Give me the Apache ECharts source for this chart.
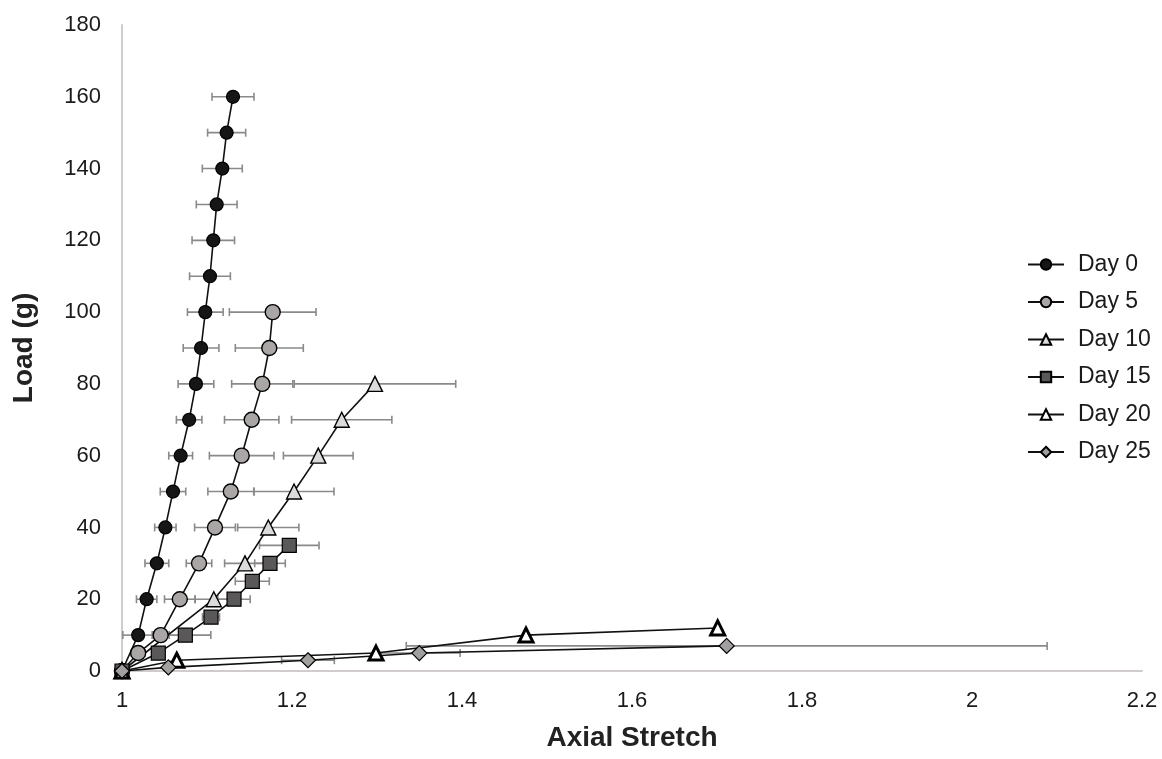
<!DOCTYPE html>
<html>
<head>
<meta charset="utf-8">
<script src="https://cdn.jsdelivr.net/npm/echarts@6/dist/echarts.min.js"></script>
<style>html,body{margin:0;padding:0;background:#fff;}#c{width:1162px;height:759px;}</style>
</head>
<body>
<div id="c"></div>
<script>
// ---- data ----
const xTicks = [1, 1.2, 1.4, 1.6, 1.8, 2, 2.2];
const yTicks = [0, 20, 40, 60, 80, 100, 120, 140, 160, 180];

const day0Stretch = [1.0, 1.019, 1.029, 1.041, 1.051, 1.060, 1.069, 1.079, 1.087, 1.093, 1.098, 1.1035, 1.1074, 1.1114, 1.118, 1.1231, 1.1306];
const day0Load    = [0, 10, 20, 30, 40, 50, 60, 70, 80, 90, 100, 110, 120, 130, 140, 150, 160];
const day0Err     = [0, 0.018, 0.012, 0.014, 0.0126, 0.015, 0.014, 0.015, 0.021, 0.021, 0.021, 0.024, 0.025, 0.024, 0.0235, 0.0224, 0.0247];

const day5Stretch = [1.0, 1.019, 1.0455, 1.068, 1.0906, 1.1094, 1.128, 1.1408, 1.1526, 1.165, 1.1733, 1.1773];
const day5Load    = [0, 5, 10, 20, 30, 40, 50, 60, 70, 80, 90, 100];
const day5Err     = [0, 0.008, 0.01, 0.018, 0.015, 0.024, 0.027, 0.038, 0.032, 0.036, 0.040, 0.051];

const day10Stretch = [1.0, 1.108, 1.1447, 1.1721, 1.2024, 1.2309, 1.2585, 1.2976];
const day10Load    = [0, 20, 30, 40, 50, 60, 70, 80];
const day10Err     = [0, 0.022, 0.024, 0.036, 0.047, 0.041, 0.059, 0.095];

const day15Stretch = [1.0, 1.0427, 1.0745, 1.1047, 1.1318, 1.1533, 1.1741, 1.1968];
const day15Load    = [0, 5, 10, 15, 20, 25, 30, 35];
const day15Err     = [0, 0.005, 0.03, 0.01, 0.019, 0.02, 0.018, 0.035];

const day20Stretch = [1.0, 1.0644, 1.2988, 1.4753, 1.7008];
const day20Load    = [0, 3, 5, 10, 12];
const day20Err     = [0, 0, 0, 0, 0];

const day25Stretch = [1.0, 1.0545, 1.2188, 1.3498, 1.7114];
const day25Load    = [0, 1, 3, 5, 7];
const day25Err     = [0, 0, 0.031, 0.048, 0.377];

const seriesNames = ['Day 0', 'Day 5', 'Day 10', 'Day 15', 'Day 20', 'Day 25'];

// ---- build ----
const FONT = 'Liberation Sans, Arial, sans-serif';
const groups = [
  {name: seriesNames[0], xs: day0Stretch, ys: day0Load, es: day0Err, symbol: 'circle', size: 13, fill: '#161616', bw: 1.2},
  {name: seriesNames[1], xs: day5Stretch, ys: day5Load, es: day5Err, symbol: 'circle', size: 15, fill: '#aaa6a6', bw: 1.4},
  {name: seriesNames[2], xs: day10Stretch, ys: day10Load, es: day10Err, symbol: 'triangle', size: 15, fill: '#dcdada', bw: 1.4},
  {name: seriesNames[3], xs: day15Stretch, ys: day15Load, es: day15Err, symbol: 'rect', size: 14, fill: '#5a5858', bw: 1.2},
  {name: seriesNames[4], xs: day20Stretch, ys: day20Load, es: day20Err, symbol: 'triangle', size: 14, fill: '#ffffff', bw: 3},
  {name: seriesNames[5], xs: day25Stretch, ys: day25Load, es: day25Err, symbol: 'diamond', size: 15, fill: '#a29f9f', bw: 1.2}
];

const series = [];
groups.forEach(function (g) {
  const errData = g.xs.map(function (x, i) { return [x, g.ys[i], g.es[i]]; });
  series.push({
    type: 'custom',
    name: g.name + ' err',
    z: 1,
    silent: true,
    renderItem: function (params, api) {
      const x = api.value(0), y = api.value(1), e = api.value(2);
      if (!e) return null;
      const p1 = api.coord([x - e, y]);
      const p2 = api.coord([x + e, y]);
      const h = 4;
      const st = {stroke: '#8a8a8a', lineWidth: 1.6};
      return {
        type: 'group',
        children: [
          {type: 'line', shape: {x1: p1[0], y1: p1[1], x2: p2[0], y2: p2[1]}, style: st},
          {type: 'line', shape: {x1: p1[0], y1: p1[1] - h, x2: p1[0], y2: p1[1] + h}, style: st},
          {type: 'line', shape: {x1: p2[0], y1: p2[1] - h, x2: p2[0], y2: p2[1] + h}, style: st}
        ]
      };
    },
    encode: {x: 0, y: 1},
    data: errData
  });
  series.push({
    type: 'line',
    name: g.name,
    z: 3,
    data: g.xs.map(function (x, i) { return [x, g.ys[i]]; }),
    symbol: g.symbol,
    symbolSize: g.size,
    showAllSymbol: true,
    lineStyle: {color: '#111', width: 1.6},
    itemStyle: {color: g.fill, borderColor: '#000', borderWidth: g.bw},
    emphasis: {disabled: true},
    animation: false
  });
});

const chart = echarts.init(document.getElementById('c'), null, {renderer: 'canvas'});
chart.setOption({
  animation: false,
  backgroundColor: '#ffffff',
  grid: {left: 122, right: 20, top: 25, bottom: 88, containLabel: false, outerBoundsMode: 'none'},
  legend: {
    data: seriesNames,
    orient: 'vertical',
    left: 1022,
    top: 248,
    itemWidth: 36,
    itemHeight: 13,
    itemGap: 14.5,
    textStyle: {fontFamily: FONT, fontSize: 23, lineHeight: 23, color: '#1a1a1a', padding: [0, 0, 0, 9]}
  },
  xAxis: {
    type: 'value',
    min: xTicks[0],
    max: xTicks[xTicks.length - 1],
    interval: 0.2,
    name: 'Axial Stretch',
    nameLocation: 'middle',
    nameGap: 53,
    nameTextStyle: {fontFamily: FONT, fontSize: 28, fontWeight: 'bold', color: '#222'},
    axisLine: {show: true, lineStyle: {color: '#d0cccc', width: 2}},
    axisTick: {show: false},
    splitLine: {show: false},
    axisLabel: {margin: 19, fontFamily: FONT, fontSize: 22, color: '#1a1a1a',
      formatter: function (v) { return String(Math.round(v * 10) / 10); }}
  },
  yAxis: {
    type: 'value',
    min: yTicks[0],
    max: yTicks[yTicks.length - 1],
    interval: 20,
    name: 'Load (g)',
    nameLocation: 'middle',
    nameGap: 84,
    nameTextStyle: {fontFamily: FONT, fontSize: 28, fontWeight: 'bold', color: '#222'},
    axisLine: {show: true, lineStyle: {color: '#d0cccc', width: 2}},
    axisTick: {show: false},
    splitLine: {show: false},
    axisLabel: {margin: 21, fontFamily: FONT, fontSize: 22, color: '#1a1a1a'}
  },
  series: series
});
</script>
</body>
</html>
